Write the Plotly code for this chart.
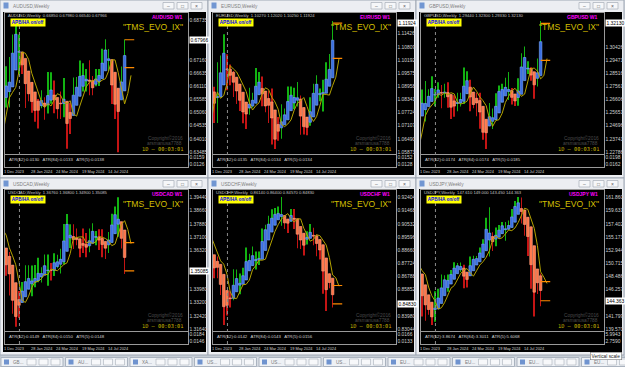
import numpy as np
import pandas as pd
import plotly.graph_objects as go

W, H = 625, 367
FONT = "Liberation Sans, Arial, sans-serif"
NARROW = "Liberation Sans Narrow, Liberation Sans, Arial, sans-serif"
MONO = "DejaVu Sans Mono, monospace"

# ---------------- data (weekly bars) ----------------
weeks = [
    "2023-10-15", "2023-10-22", "2023-10-29", "2023-11-05", "2023-11-12", "2023-11-19", "2023-11-26",
    "2023-12-03", "2023-12-10", "2023-12-17", "2023-12-24", "2023-12-31",
    "2024-01-07", "2024-01-14", "2024-01-21", "2024-01-28",
    "2024-02-04", "2024-02-11", "2024-02-18", "2024-02-25",
    "2024-03-03", "2024-03-10", "2024-03-17", "2024-03-24", "2024-03-31",
    "2024-04-07", "2024-04-14", "2024-04-21", "2024-04-28",
    "2024-05-05", "2024-05-12", "2024-05-19", "2024-05-26",
    "2024-06-02", "2024-06-09", "2024-06-16", "2024-06-23", "2024-06-30",
    "2024-07-07", "2024-07-14", "2024-07-21", "2024-07-28",
    "2024-08-04", "2024-08-11", "2024-08-18",
]

symbols = ["AUDUSD", "EURUSD", "GBPUSD", "USDCAD", "USDCHF", "USDJPY"]

audusd_open = [0.6355, 0.6311, 0.6331, 0.6514, 0.6364, 0.6542, 0.6602, 0.6669, 0.6563, 0.6693, 0.6812, 0.6812, 0.6708, 0.6690, 0.6582, 0.6572, 0.6514, 0.6525, 0.6534, 0.6564, 0.6514, 0.6611, 0.6566, 0.6524, 0.6519, 0.6576, 0.6530, 0.6424, 0.6541, 0.6615, 0.6611, 0.6692, 0.6630, 0.6656, 0.6578, 0.6615, 0.6654, 0.6670, 0.6740, 0.6760, 0.6690, 0.6545, 0.6516, 0.6578, 0.6685]
audusd_high = [0.6380, 0.6391, 0.6522, 0.6522, 0.6556, 0.6606, 0.6677, 0.6691, 0.6728, 0.6818, 0.6871, 0.6818, 0.6728, 0.6690, 0.6620, 0.6610, 0.6551, 0.6560, 0.6595, 0.6567, 0.6668, 0.6667, 0.6634, 0.6561, 0.6590, 0.6644, 0.6534, 0.6545, 0.6646, 0.6648, 0.6714, 0.6703, 0.6680, 0.6715, 0.6652, 0.6680, 0.6680, 0.6761, 0.6799, 0.6760, 0.6690, 0.6617, 0.6600, 0.6690, 0.6798]
audusd_low = [0.6288, 0.6270, 0.6315, 0.6339, 0.6338, 0.6530, 0.6590, 0.6526, 0.6526, 0.6650, 0.6779, 0.6658, 0.6660, 0.6524, 0.6551, 0.6505, 0.6469, 0.6442, 0.6523, 0.6477, 0.6502, 0.6541, 0.6503, 0.6481, 0.6480, 0.6487, 0.6362, 0.6420, 0.6500, 0.6555, 0.6585, 0.6590, 0.6590, 0.6575, 0.6575, 0.6611, 0.6612, 0.6643, 0.6724, 0.6672, 0.6540, 0.6480, 0.6348, 0.6560, 0.6654]
audusd_close = [0.6311, 0.6331, 0.6514, 0.6364, 0.6542, 0.6602, 0.6669, 0.6563, 0.6693, 0.6812, 0.6812, 0.6708, 0.6690, 0.6582, 0.6572, 0.6514, 0.6525, 0.6534, 0.6564, 0.6514, 0.6611, 0.6566, 0.6524, 0.6519, 0.6576, 0.6530, 0.6424, 0.6541, 0.6615, 0.6611, 0.6692, 0.6630, 0.6656, 0.6578, 0.6615, 0.6654, 0.6670, 0.6740, 0.6760, 0.6690, 0.6545, 0.6516, 0.6578, 0.6685, 0.67966]

eurusd_open = [1.0530, 1.0594, 1.0565, 1.0730, 1.0683, 1.0913, 1.0940, 1.0884, 1.0762, 1.0896, 1.1012, 1.1039, 1.0940, 1.0950, 1.0897, 1.0854, 1.0788, 1.0784, 1.0777, 1.0821, 1.0838, 1.0938, 1.0890, 1.0808, 1.0790, 1.0837, 1.0643, 1.0656, 1.0693, 1.0761, 1.0771, 1.0868, 1.0847, 1.0848, 1.0801, 1.0702, 1.0693, 1.0713, 1.0839, 1.0907, 1.0884, 1.0855, 1.0910, 1.0918, 1.1027]
eurusd_high = [1.0618, 1.0695, 1.0756, 1.0756, 1.0914, 1.0965, 1.1017, 1.0894, 1.1009, 1.1040, 1.1140, 1.1046, 1.0998, 1.0967, 1.0932, 1.0897, 1.0808, 1.0806, 1.0889, 1.0865, 1.0981, 1.0963, 1.0942, 1.0842, 1.0876, 1.0885, 1.0690, 1.0752, 1.0812, 1.0791, 1.0895, 1.0895, 1.0889, 1.0916, 1.0852, 1.0761, 1.0740, 1.0844, 1.0907, 1.0948, 1.0885, 1.0926, 1.1008, 1.1047, 1.1202]
eurusd_low = [1.0495, 1.0522, 1.0516, 1.0656, 1.0656, 1.0852, 1.0830, 1.0724, 1.0723, 1.0888, 1.1012, 1.0877, 1.0901, 1.0845, 1.0813, 1.0780, 1.0722, 1.0695, 1.0762, 1.0796, 1.0827, 1.0870, 1.0802, 1.0774, 1.0724, 1.0623, 1.0601, 1.0640, 1.0650, 1.0724, 1.0763, 1.0805, 1.0788, 1.0801, 1.0668, 1.0670, 1.0666, 1.0710, 1.0798, 1.0882, 1.0825, 1.0777, 1.0880, 1.0908, 1.1025]
eurusd_close = [1.0594, 1.0565, 1.0730, 1.0683, 1.0913, 1.0940, 1.0884, 1.0762, 1.0896, 1.1012, 1.1039, 1.0940, 1.0950, 1.0897, 1.0854, 1.0788, 1.0784, 1.0777, 1.0821, 1.0838, 1.0938, 1.0890, 1.0808, 1.0790, 1.0837, 1.0643, 1.0656, 1.0693, 1.0761, 1.0771, 1.0868, 1.0847, 1.0848, 1.0801, 1.0702, 1.0693, 1.0713, 1.0839, 1.0907, 1.0884, 1.0855, 1.0910, 1.0918, 1.1027, 1.11924]

gbpusd_open = [1.2200, 1.2159, 1.2129, 1.2379, 1.2238, 1.2462, 1.2605, 1.2705, 1.2548, 1.2682, 1.2703, 1.2730, 1.2704, 1.2757, 1.2703, 1.2705, 1.2631, 1.2622, 1.2601, 1.2669, 1.2651, 1.2857, 1.2737, 1.2598, 1.2623, 1.2670, 1.2450, 1.2372, 1.2494, 1.2547, 1.2524, 1.2701, 1.2737, 1.2740, 1.2723, 1.2690, 1.2645, 1.2646, 1.2812, 1.2995, 1.2914, 1.2855, 1.2802, 1.2758, 1.2944]
gbpusd_high = [1.2337, 1.2289, 1.2429, 1.2428, 1.2506, 1.2615, 1.2733, 1.2733, 1.2794, 1.2734, 1.2828, 1.2736, 1.2785, 1.2765, 1.2775, 1.2785, 1.2646, 1.2690, 1.2709, 1.2709, 1.2893, 1.2865, 1.2803, 1.2677, 1.2709, 1.2709, 1.2499, 1.2509, 1.2634, 1.2594, 1.2706, 1.2761, 1.2774, 1.2818, 1.2860, 1.2743, 1.2694, 1.2815, 1.2995, 1.3044, 1.2938, 1.2894, 1.2840, 1.2957, 1.3230]
gbpusd_low = [1.2090, 1.2070, 1.2096, 1.2187, 1.2214, 1.2450, 1.2590, 1.2545, 1.2500, 1.2613, 1.2695, 1.2611, 1.2672, 1.2597, 1.2672, 1.2600, 1.2518, 1.2535, 1.2575, 1.2610, 1.2627, 1.2728, 1.2575, 1.2597, 1.2539, 1.2448, 1.2367, 1.2300, 1.2466, 1.2446, 1.2510, 1.2675, 1.2679, 1.2712, 1.2657, 1.2624, 1.2612, 1.2615, 1.2784, 1.2906, 1.2845, 1.2797, 1.2665, 1.2755, 1.2933]
gbpusd_close = [1.2159, 1.2129, 1.2379, 1.2238, 1.2462, 1.2605, 1.2705, 1.2548, 1.2682, 1.2703, 1.2730, 1.2704, 1.2757, 1.2703, 1.2705, 1.2631, 1.2622, 1.2601, 1.2669, 1.2651, 1.2857, 1.2737, 1.2598, 1.2623, 1.2670, 1.2450, 1.2372, 1.2494, 1.2547, 1.2524, 1.2701, 1.2737, 1.2740, 1.2723, 1.2690, 1.2645, 1.2646, 1.2812, 1.2995, 1.2914, 1.2855, 1.2802, 1.2758, 1.2944, 1.32130]

usdcad_open = [1.3640, 1.3720, 1.3870, 1.3720, 1.3800, 1.3717, 1.3640, 1.3497, 1.3583, 1.3397, 1.3260, 1.3243, 1.3358, 1.3408, 1.3447, 1.3454, 1.3444, 1.3455, 1.3494, 1.3508, 1.3545, 1.3482, 1.3555, 1.3581, 1.3540, 1.3636, 1.3776, 1.3777, 1.3675, 1.3679, 1.3677, 1.3618, 1.3648, 1.3626, 1.3743, 1.3740, 1.3702, 1.3675, 1.3640, 1.3675, 1.3737, 1.3811, 1.3877, 1.3727, 1.3676]
usdcad_high = [1.3780, 1.3880, 1.3899, 1.3810, 1.3807, 1.3760, 1.3660, 1.3621, 1.3621, 1.3426, 1.3273, 1.3390, 1.3443, 1.3542, 1.3542, 1.3540, 1.3544, 1.3586, 1.3530, 1.3606, 1.3606, 1.3555, 1.3614, 1.3604, 1.3640, 1.3787, 1.3846, 1.3785, 1.3785, 1.3760, 1.3688, 1.3760, 1.3734, 1.3760, 1.3791, 1.3745, 1.3755, 1.3755, 1.3680, 1.3740, 1.3848, 1.3890, 1.3946, 1.3763, 1.3680]
usdcad_low = [1.3630, 1.3680, 1.3680, 1.3680, 1.3690, 1.3620, 1.3480, 1.3480, 1.3363, 1.3255, 1.3177, 1.3229, 1.3347, 1.3383, 1.3413, 1.3359, 1.3412, 1.3442, 1.3440, 1.3499, 1.3420, 1.3452, 1.3478, 1.3525, 1.3494, 1.3547, 1.3740, 1.3644, 1.3639, 1.3661, 1.3590, 1.3615, 1.3589, 1.3620, 1.3700, 1.3661, 1.3633, 1.3590, 1.3580, 1.3615, 1.3730, 1.3791, 1.3711, 1.3641, 1.3490]
usdcad_close = [1.3720, 1.3870, 1.3720, 1.3800, 1.3717, 1.3640, 1.3497, 1.3583, 1.3397, 1.3260, 1.3243, 1.3358, 1.3408, 1.3447, 1.3454, 1.3444, 1.3455, 1.3494, 1.3508, 1.3545, 1.3482, 1.3555, 1.3581, 1.3540, 1.3636, 1.3776, 1.3777, 1.3675, 1.3679, 1.3677, 1.3618, 1.3648, 1.3626, 1.3743, 1.3740, 1.3702, 1.3675, 1.3640, 1.3675, 1.3737, 1.3811, 1.3877, 1.3727, 1.3676, 1.35085]

usdchf_open = [0.9010, 0.8926, 0.9000, 0.8960, 0.9010, 0.8860, 0.8838, 0.8676, 0.8795, 0.8693, 0.8551, 0.8414, 0.8514, 0.8536, 0.8689, 0.8627, 0.8640, 0.8728, 0.8807, 0.8792, 0.8842, 0.8768, 0.8844, 0.9004, 0.9020, 0.9060, 0.9123, 0.9106, 0.9138, 0.9055, 0.9070, 0.9083, 0.9142, 0.9026, 0.8982, 0.8905, 0.8935, 0.8984, 0.8970, 0.8966, 0.8888, 0.8843, 0.8575, 0.8631, 0.8614]
usdchf_high = [0.9060, 0.9050, 0.9112, 0.9030, 0.9040, 0.8880, 0.8860, 0.8820, 0.8820, 0.8697, 0.8556, 0.8562, 0.8573, 0.8729, 0.8728, 0.8700, 0.8740, 0.8885, 0.8840, 0.8892, 0.8856, 0.8856, 0.9019, 0.9046, 0.9110, 0.9156, 0.9166, 0.9177, 0.9244, 0.9098, 0.9090, 0.9158, 0.9158, 0.9030, 0.8991, 0.8937, 0.9000, 0.9052, 0.9025, 0.8978, 0.8939, 0.8893, 0.8700, 0.8702, 0.8640]
usdchf_low = [0.8900, 0.8890, 0.8930, 0.8920, 0.8852, 0.8820, 0.8666, 0.8666, 0.8666, 0.8547, 0.8333, 0.8401, 0.8458, 0.8510, 0.8610, 0.8552, 0.8627, 0.8717, 0.8730, 0.8780, 0.8728, 0.8760, 0.8842, 0.8974, 0.9012, 0.9033, 0.9085, 0.9088, 0.9040, 0.9017, 0.8988, 0.9067, 0.9016, 0.8880, 0.8874, 0.8827, 0.8906, 0.8965, 0.8901, 0.8822, 0.8799, 0.8555, 0.8432, 0.8595, 0.8457]
usdchf_close = [0.8926, 0.9000, 0.8960, 0.9010, 0.8860, 0.8838, 0.8676, 0.8795, 0.8693, 0.8551, 0.8414, 0.8514, 0.8536, 0.8689, 0.8627, 0.8640, 0.8728, 0.8807, 0.8792, 0.8842, 0.8768, 0.8844, 0.9004, 0.9020, 0.9060, 0.9123, 0.9106, 0.9138, 0.9055, 0.9070, 0.9083, 0.9142, 0.9026, 0.8982, 0.8905, 0.8935, 0.8984, 0.8970, 0.8966, 0.8888, 0.8843, 0.8575, 0.8631, 0.8614, 0.84830]

usdjpy_open = [149.55, 149.86, 149.66, 149.38, 151.51, 149.58, 149.44, 146.79, 144.95, 142.16, 142.42, 141.02, 144.62, 144.87, 148.14, 148.17, 148.38, 149.28, 150.21, 150.51, 150.09, 147.06, 149.04, 151.41, 151.35, 151.62, 153.28, 154.64, 158.33, 152.97, 155.78, 155.65, 156.96, 157.25, 156.74, 157.39, 159.80, 160.88, 160.74, 157.86, 157.46, 153.76, 146.54, 147.15, 147.61]
usdjpy_high = [150.00, 150.78, 151.72, 151.60, 151.91, 149.75, 149.67, 147.40, 146.59, 144.96, 142.82, 145.98, 146.41, 148.81, 148.70, 148.81, 149.58, 150.89, 150.77, 150.84, 150.48, 149.16, 151.86, 151.97, 151.95, 153.39, 154.79, 158.44, 160.21, 155.95, 156.79, 157.20, 157.71, 157.71, 157.95, 159.93, 161.27, 161.95, 161.84, 158.49, 157.86, 155.22, 147.90, 149.40, 149.00]
usdjpy_low = [149.25, 149.38, 149.15, 149.38, 149.20, 147.15, 146.66, 141.70, 140.97, 141.97, 140.25, 140.81, 143.42, 144.35, 146.64, 145.90, 148.05, 149.19, 149.68, 149.22, 146.48, 146.62, 148.92, 150.80, 151.10, 151.56, 153.17, 154.48, 151.86, 152.80, 153.60, 155.50, 156.36, 154.54, 156.37, 157.16, 159.37, 160.26, 157.45, 155.38, 151.94, 146.41, 141.68, 145.52, 143.45]
usdjpy_close = [149.86, 149.66, 149.38, 151.51, 149.58, 149.44, 146.79, 144.95, 142.16, 142.42, 141.02, 144.62, 144.87, 148.14, 148.17, 148.38, 149.28, 150.21, 150.51, 150.09, 147.06, 149.04, 151.41, 151.35, 151.62, 153.28, 154.64, 158.33, 152.97, 155.78, 155.65, 156.96, 157.25, 156.74, 157.39, 159.80, 160.88, 160.74, 157.86, 157.46, 153.76, 146.54, 147.15, 147.61, 144.363]

ohlc = {
    "AUDUSD": (audusd_open, audusd_high, audusd_low, audusd_close),
    "EURUSD": (eurusd_open, eurusd_high, eurusd_low, eurusd_close),
    "GBPUSD": (gbpusd_open, gbpusd_high, gbpusd_low, gbpusd_close),
    "USDCAD": (usdcad_open, usdcad_high, usdcad_low, usdcad_close),
    "USDCHF": (usdchf_open, usdchf_high, usdchf_low, usdchf_close),
    "USDJPY": (usdjpy_open, usdjpy_high, usdjpy_low, usdjpy_close),
}
decimals = {"AUDUSD": 5, "EURUSD": 5, "GBPUSD": 5, "USDCAD": 5, "USDCHF": 5, "USDJPY": 3}

price_ticks = {
    "AUDUSD": [0.68735, 0.68210, 0.67685, 0.67160, 0.66635, 0.66110, 0.65585, 0.65060, 0.64535, 0.64010, 0.63485],
    "EURUSD": [1.12043, 1.11426, 1.10809, 1.10192, 1.09575, 1.08958, 1.08341, 1.07724, 1.07107, 1.06490, 1.05873],
    "GBPUSD": [1.32336, 1.31381, 1.30426, 1.29471, 1.28516, 1.27561, 1.26606, 1.25651, 1.24696, 1.23741, 1.22786],
    "USDCAD": [1.39440, 1.38660, 1.37880, 1.37100, 1.36320, 1.35540, 1.34760, 1.33980, 1.33200, 1.32420, 1.31640],
    "USDCHF": [0.92404, 0.91468, 0.90532, 0.89596, 0.88660, 0.87724, 0.86788, 0.85852, 0.84916, 0.83980, 0.83044],
    "USDJPY": [161.860, 159.631, 157.402, 155.173, 152.944, 150.715, 148.486, 146.257, 144.028, 141.799, 139.570],
}
atr_values = {
    "AUDUSD": [0.0130, 0.0133, 0.0138],
    "EURUSD": [0.0135, 0.0134, 0.0134],
    "GBPUSD": [0.0174, 0.0174, 0.0185],
    "USDCAD": [0.0149, 0.0150, 0.0148],
    "USDCHF": [0.0142, 0.0143, 0.0156],
    "USDJPY": [3.8674, 3.3011, 5.6068],
}
atr_ticks = {
    "AUDUSD": [0.0159, 0.0126],
    "EURUSD": [0.0152, 0.0128],
    "GBPUSD": [0.0198, 0.0162],
    "USDCAD": [0.0184, 0.0146],
    "USDCHF": [0.0166, 0.0133],
    "USDJPY": [5.9943, 2.7590],
}
date_tick_dates = ["2023-12-01", "2024-01-28", "2024-03-24", "2024-05-19", "2024-07-14"]
date_tick_text = ["1 Dec 2023", "28 Jan 2024", "24 Mar 2024", "19 May 2024", "14 Jul 2024"]
separator_dates = ["2024-01-01"]
timer_text = "1D – 00:03:01"
tab_labels = ["GB...", "AU...", "XA...", "US...", "US...", "US...", "EU...", "EU...", "EU...", "EU..."]

# ---------------- styling / geometry ----------------
BLACK_LEFT = [3, 211, 419]
BLACK_TOP = [12, 189]
WIN_TOP = [0, 178]
BLACK_W, BLACK_H = 203, 163
X_RANGE = ["2023-11-30 10:00", "2025-01-02 12:00"]
DAY_MS = 86400000

BODY_UP, BODY_UP_EDGE = "#3b6fe2", "#79a7ff"
BODY_DN, BODY_DN_EDGE = "#ff7448", "#ffa282"
WICK_UP, WICK_DN = "#12b312", "#c41414"
MA_COLOR = "#b4a300"
LEVEL_COLOR = "#ff8a00"
FRAME = "#9a9a9a"
AXTXT = "#d0d0d0"


def px_x(v):
    return v / W


def px_y(v):
    return 1 - v / H


shapes, annotations = [], []


def rect(x0, y0, x1, y1, fill, line=None, width=0):
    shapes.append(dict(type="rect", xref="paper", yref="paper", layer="below",
                       x0=px_x(x0), x1=px_x(x1), y0=px_y(y1), y1=px_y(y0),
                       fillcolor=fill, line=dict(color=line or fill, width=width)))


def label(t, x, y, size=5, color=AXTXT, xanchor="left", yanchor="middle", family=FONT, **kw):
    annotations.append(dict(text=t, x=px_x(x), y=px_y(y), xref="paper", yref="paper",
                            showarrow=False, xanchor=xanchor, yanchor=yanchor,
                            font=dict(size=size, color=color, family=family), **kw))


def axname(i):
    return "" if i == 1 else str(i)


fig = go.Figure()
axes = {}
dates = pd.to_datetime(weeks)

# bottom task bar
rect(0, 356, 625, 367, "#d7dce3", "#b3bbc6", 1)
for i, tl in enumerate(tab_labels):
    x0 = 1 + i * 64.5
    rect(x0, 357.5, x0 + 62, 366.5, "#eef1f5", "#aab3bf", 1)
    rect(x0 + 3, 359.5, x0 + 8, 364.5, "#6f93cf")
    label(tl, x0 + 10, 362, size=4.6, color="#7a7a7a")
    for bx in (26, 38, 50):
        rect(x0 + bx, 359, x0 + bx + 9, 365, "#f7f8fa", "#a9b0ba", 0.6)

for k, sym in enumerate(symbols):
    row, col = divmod(k, 3)
    bl, t, wt = BLACK_LEFT[col], BLACK_TOP[row], WIN_TOP[row]
    ia, ib = 2 * k + 1, 2 * k + 2
    sa, sb = axname(ia), axname(ib)
    d = decimals[sym]
    o, h, l, c = (np.array(a, dtype=float) for a in ohlc[sym])

    # ---- window chrome ----
    rect(bl - 3, wt, bl + BLACK_W + 2, t + BLACK_H + 3, "#eceef2", "#9ea7b3", 1)
    rect(bl, t, bl + BLACK_W, t + BLACK_H, "#000000")
    rect(bl + 0.5, wt + 2.5, bl + 5.5, wt + 8.5, "#7196d2")
    label(f"{sym},Weekly", bl + 8, wt + 6, size=4.7, color="#808080")
    for bx, glyph in zip((160, 174, 188), ("–", "□", "×")):
        rect(bl + bx, wt + 2.5, bl + bx + 11, wt + 9, "#f6f7f9", "#a6adb8", 0.7)
        label(glyph, bl + bx + 5.5, wt + 5.9, size=5, color="#5a5a5a", xanchor="center")

    # ---- Heikin-Ashi bodies from the bar data ----
    ha_close = (o + h + l + c) / 4
    ha_open = np.empty_like(ha_close)
    ha_open[0] = (o[0] + c[0]) / 2
    for i in range(1, len(o)):
        ha_open[i] = (ha_open[i - 1] + ha_close[i - 1]) / 2
    up = ha_close >= ha_open
    ha_hi = np.maximum(h, np.maximum(ha_open, ha_close))
    ha_lo = np.minimum(l, np.minimum(ha_open, ha_close))

    fig.add_trace(go.Bar(x=dates, y=ha_hi - ha_lo, base=ha_lo, width=1.6 * DAY_MS,
                         marker=dict(color=[WICK_UP if u else WICK_DN for u in up], line=dict(width=0)),
                         xaxis="x" + sa, yaxis="y" + sa, hoverinfo="skip"))
    fig.add_trace(go.Bar(x=dates, y=ha_close - ha_open, base=ha_open, width=5.6 * DAY_MS,
                         marker=dict(color=[BODY_UP if u else BODY_DN for u in up],
                                     line=dict(width=0.6, color=[BODY_UP_EDGE if u else BODY_DN_EDGE for u in up])),
                         xaxis="x" + sa, yaxis="y" + sa, hoverinfo="skip"))

    # ---- smoothed moving average of the median price, drawn shifted forward ----
    ma = pd.Series((h + l) / 2).ewm(alpha=0.5, adjust=False).mean().values
    fig.add_trace(go.Scatter(x=dates + pd.Timedelta(days=14), y=ma, mode="lines",
                             line=dict(color=MA_COLOR, width=1), xaxis="x" + sa, yaxis="y" + sa,
                             hoverinfo="skip"))

    # ---- open / close level markers of the current bar ----
    d_last = dates[-1]
    d_end = d_last + pd.Timedelta(days=21)
    fig.add_trace(go.Scatter(x=[d_last, d_end, None, d_last, d_end], y=[o[-1], o[-1], None, c[-1], c[-1]],
                             mode="lines", line=dict(color=LEVEL_COLOR, width=1.2),
                             xaxis="x" + sa, yaxis="y" + sa, hoverinfo="skip"))

    # ATR sub-window (values shown as text only)
    atr = atr_values[sym]
    fig.add_trace(go.Scatter(x=[dates[-1]], y=[atr[0]], mode="markers",
                             marker=dict(size=1, color="rgba(0,0,0,0)"),
                             xaxis="x" + sb, yaxis="y" + sb, hoverinfo="skip"))

    # ---- axes ----
    ticks = price_ticks[sym]
    step = ticks[0] - ticks[1]
    yr = [ticks[-1] - 0.15 * step, ticks[0] + 0.57 * step]
    # the current-price box hides the scale label it sits on
    tick_text = ["" if abs(v - c[-1]) < 0.8 * step else f"{v:.{d}f}" for v in ticks]
    xdom = [px_x(bl + 2), px_x(bl + 184.5)]
    common_x = dict(domain=xdom, type="date", range=X_RANGE, showticklabels=False, showgrid=False,
                    zeroline=False, showline=True, mirror=True, linecolor=FRAME, linewidth=1, ticks="",
                    fixedrange=True)
    axes["xaxis" + sa] = dict(common_x, anchor="y" + sa)
    axes["xaxis" + sb] = dict(common_x, anchor="y" + sb)
    axes["yaxis" + sa] = dict(domain=[px_y(t + 142), px_y(t + 1)], anchor="x" + sa, side="right",
                              range=yr, tickvals=ticks, ticktext=tick_text,
                              tickfont=dict(size=4.9, color=AXTXT, family=NARROW), showgrid=False,
                              zeroline=False, showline=True, mirror=True, linecolor=FRAME, linewidth=1,
                              ticks="", fixedrange=True)
    at = atr_ticks[sym]
    span = (at[0] - at[1]) / 0.58
    a0 = at[1] - 0.21 * span
    axes["yaxis" + sb] = dict(domain=[px_y(t + 155), px_y(t + 143)], anchor="x" + sb, side="right",
                              range=[a0, a0 + span], tickvals=at, ticktext=[f"{v:.4f}" for v in at],
                              tickfont=dict(size=4.9, color=AXTXT, family=NARROW), showgrid=False,
                              zeroline=False, showline=True, mirror=True, linecolor=FRAME, linewidth=1,
                              ticks="", fixedrange=True)

    # period separator
    for sd in separator_dates:
        shapes.append(dict(type="line", xref="x" + sa, yref="paper", x0=sd, x1=sd,
                           y0=px_y(t + 155), y1=px_y(t + 1), line=dict(color="#8c8c8c", width=1, dash="dot")))

    # current price label on the price scale
    annotations.append(dict(text=f"{c[-1]:.{d}f}", x=px_x(bl + 186.3), y=c[-1], xref="paper", yref="y" + sa,
                            showarrow=False, xanchor="left", yanchor="middle", bgcolor="#ffffff",
                            borderpad=0.5, font=dict(size=4.9, color="#000000", family=NARROW)))

    # date labels
    for dd, dt in zip(date_tick_dates, date_tick_text):
        annotations.append(dict(text=dt, x=dd, y=px_y(t + 159), xref="x" + sb, yref="paper",
                                showarrow=False, xanchor="left", yanchor="middle", xshift=-3,
                                font=dict(size=3.9, color=AXTXT, family=NARROW)))

    # texts inside the chart
    label(f"{sym},Weekly  {o[-1]:.{d}f} {h[-1]:.{d}f} {l[-1]:.{d}f} {c[-1]:.{d}f}", bl + 3, t + 3.6,
          size=4.2, color="#c4c4c4", family=NARROW)
    label("<b>APB/HA on/off</b>", bl + 25, t + 10.7, size=4.6, color="#0000ff", xanchor="center",
          bgcolor="#ffff00", borderpad=0.8)
    label(f"<b>{sym} W1</b>", bl + 181, t + 5.2, size=5.0, color="#ff00ff", xanchor="right")
    label('"TMS_EVO_IX"', bl + 182, t + 15.5, size=8.6, color="#d2bf00", xanchor="right", family=NARROW)
    label("Copyright©2016", bl + 182, t + 126, size=4.8, color="#4b4b4b", xanchor="right")
    label("arsmanusa7788", bl + 181, t + 131, size=4.8, color="#4b4b4b", xanchor="right")
    label(timer_text, bl + 182, t + 137, size=5.3, color="#c9b600", xanchor="right", family=MONO)
    label(f"ATR(52):{atr[0]:.4f}   ATR(84):{atr[1]:.4f}   ATR(5):{atr[2]:.4f}", bl + 4, t + 147.5,
          size=4.3, color="#d0d0d0", family=NARROW)

# tooltip of the screenshot
label("Vertical scale", 606, 355.5, size=4.8, color="#222222", xanchor="center",
      bgcolor="#ffffff", bordercolor="#7a7a7a", borderwidth=0.6, borderpad=1)

fig.update_layout(
    width=W, height=H, margin=dict(l=0, r=0, t=0, b=0),
    paper_bgcolor="#d6dbe2", plot_bgcolor="#000000",
    showlegend=False, barmode="overlay", hovermode=False,
    shapes=shapes, annotations=annotations, **axes,
)
fig.write_html("out.html")
